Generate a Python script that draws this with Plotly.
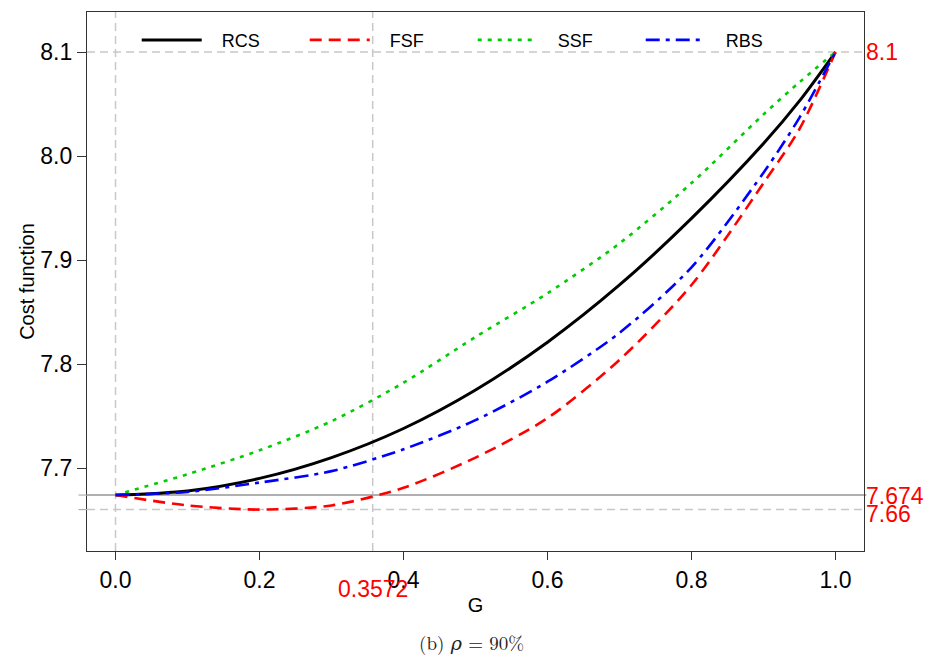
import plotly.graph_objects as go

# ---- data ----
G = [0.0, 0.1, 0.2, 0.3, 0.4, 0.5, 0.6, 0.7, 0.8, 0.9, 0.95, 1.0]
RCS = [7.674, 7.678, 7.690, 7.710, 7.738, 7.775, 7.821, 7.876, 7.940, 8.012, 8.053, 8.100]
FSF = [7.674, 7.664, 7.660, 7.664, 7.681, 7.710, 7.748, 7.804, 7.876, 7.974, 8.026, 8.100]
SSF = [7.674, 7.694, 7.717, 7.745, 7.782, 7.826, 7.868, 7.916, 7.974, 8.040, 8.071, 8.100]
RBS = [7.674, 7.677, 7.686, 7.697, 7.718, 7.746, 7.783, 7.830, 7.893, 7.984, 8.037, 8.100]

series_names = ["RCS", "FSF", "SSF", "RBS"]
series_vals = [RCS, FSF, SSF, RBS]
colors = ["#000000", "#ff0000", "#00cd00", "#0000ff"]
dashes = ["solid", "12px,7px", "4px,6px", "14px,6px,4px,6px"]
widths = [3, 2.6, 2.6, 2.6]

G_opt = 0.3572
J_start = 7.674
J_min = 7.66
J_end = 8.1

x_ticks = [0.0, 0.2, 0.4, 0.6, 0.8, 1.0]
y_ticks = [7.7, 7.8, 7.9, 8.0, 8.1]

FONT = "Liberation Sans, Arial, sans-serif"
GRAY = "#c8c8c8"
NB = "\u00a0"

fig = go.Figure()

# reference lines
fig.add_shape(type="line", xref="paper", x0=0, x1=1, yref="y", y0=J_end, y1=J_end,
              line=dict(color=GRAY, width=1.5, dash="8px,5px"), layer="below")
fig.add_shape(type="line", xref="paper", x0=0, x1=1, yref="y", y0=J_min, y1=J_min,
              line=dict(color=GRAY, width=1.5, dash="8px,5px"), layer="below")
fig.add_shape(type="line", xref="x", x0=0, x1=0, yref="paper", y0=0, y1=1,
              line=dict(color=GRAY, width=1.5, dash="8px,5px"), layer="below")
fig.add_shape(type="line", xref="x", x0=G_opt, x1=G_opt, yref="paper", y0=0, y1=1,
              line=dict(color=GRAY, width=1.5, dash="8px,5px"), layer="below")
fig.add_shape(type="line", xref="paper", x0=0, x1=1.003, yref="y", y0=J_start, y1=J_start,
              line=dict(color="#b0b0b0", width=2), layer="below")
# small gray ticks on left axis
for yv in [J_start, J_min]:
    fig.add_shape(type="line", xref="paper", x0=-0.011, x1=0, yref="y", y0=yv, y1=yv,
                  line=dict(color="#b0b0b0", width=1.2))

for name, vals, c, d, w in zip(series_names, series_vals, colors, dashes, widths):
    fig.add_trace(go.Scatter(x=G, y=vals, mode="lines", name=NB * 3 + name,
                             line=dict(color=c, dash=d, width=w, shape="spline", smoothing=0.8)))

# red annotations
RED_FONT = dict(color="red", size=23, family=FONT)
fig.add_annotation(xref="paper", x=1, yref="y", y=J_end, text="8.1", showarrow=False,
                   xanchor="left", xshift=0, font=RED_FONT)
fig.add_annotation(xref="paper", x=1, yref="y", y=J_start, text="7.674", showarrow=False,
                   xanchor="left", xshift=0, yshift=-1, font=RED_FONT)
fig.add_annotation(xref="paper", x=1, yref="y", y=J_min, text="7.66", showarrow=False,
                   xanchor="left", xshift=0, yshift=-4, font=RED_FONT)
fig.add_annotation(xref="x", x=G_opt, yref="paper", y=0, text="0.3572", showarrow=False,
                   yanchor="middle", yshift=-38, font=RED_FONT)
# caption
fig.add_annotation(xref="paper", x=0.5, yref="paper", y=0, text="(b) <i>ρ</i> = 90%",
                   showarrow=False, yanchor="middle", yshift=-91, xshift=-4,
                   font=dict(color="#222", size=19, family="Latin Modern Roman, DejaVu Serif, serif"))

fig.update_layout(
    width=932, height=657,
    margin=dict(l=87, r=68, t=12, b=106),
    plot_bgcolor="white", paper_bgcolor="white",
    font=dict(family=FONT, color="black"),
    showlegend=True,
    legend=dict(orientation="h", x=0.064, y=0.982, xanchor="left", yanchor="top",
                bgcolor="rgba(0,0,0,0)", font=dict(size=18, family=FONT),
                entrywidth=93, entrywidthmode="pixels", itemwidth=60),
    xaxis=dict(range=[-0.0396, 1.0396], tickvals=x_ticks,
               ticktext=[f"{v:.1f}" for v in x_ticks],
               showline=True, linecolor="#333", linewidth=1.3, mirror=True,
               ticks="outside", ticklen=8, tickcolor="#333", showgrid=False, zeroline=False,
               tickfont=dict(size=23), title=dict(text="G", font=dict(size=20), standoff=6)),
    yaxis=dict(range=[7.6202, 8.1385], tickvals=y_ticks,
               ticktext=[f"{v:.1f}" for v in y_ticks],
               showline=True, linecolor="#333", linewidth=1.3, mirror=True,
               ticks="outside", ticklen=9, tickcolor="#333", showgrid=False, zeroline=False,
               tickfont=dict(size=23), title=dict(text="Cost function", font=dict(size=20), standoff=0)),
)

fig.write_html("out.html")
